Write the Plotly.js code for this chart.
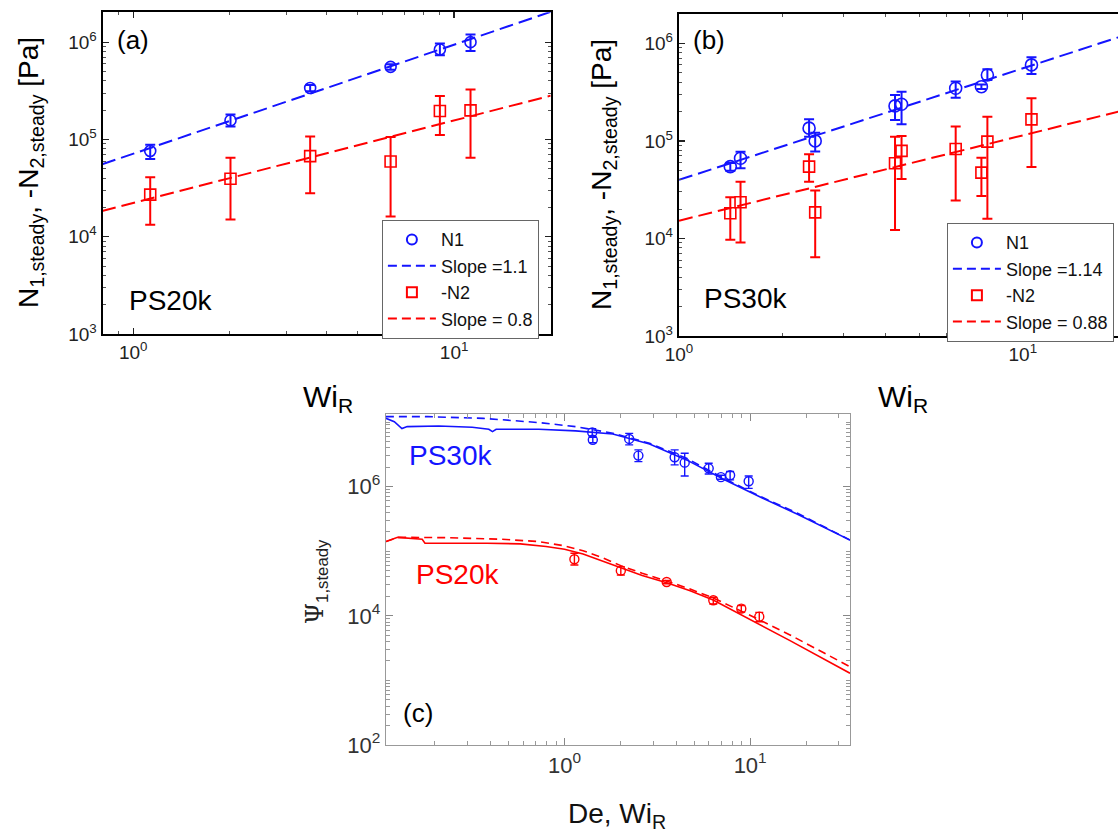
<!DOCTYPE html>
<html>
<head>
<meta charset="utf-8">
<script src="https://cdn.plot.ly/plotly-3.0.1.min.js"></script>
<style>
  html, body { margin: 0; padding: 0; background: #fff; overflow: hidden; }
  #chart { width: 1118px; height: 836px; }
</style>
</head>
<body>
<div id="chart"></div>
<script>
// ---------- Panel (a): PS20k ----------
const aWi = [1.13, 2.01, 3.56, 6.34, 9.03, 11.25];
const aN1 = [7.6e4, 1.57e5, 3.38e5, 5.57e5, 8.4e5, 1.0e6];
const aN1ErrPlus = [1.2e4, 2.4e4, 2.5e4, 3.5e4, 1.3e5, 2.0e5];
const aN1ErrMinus = [1.3e4, 2.1e4, 2.5e4, 3.5e4, 1.05e5, 1.9e5];
const aN2 = [2.71e4, 3.94e4, 6.73e4, 5.93e4, 1.96e5, 1.99e5];
const aN2ErrPlus = [1.37e4, 2.53e4, 3.97e4, 4.67e4, 8.3e4, 1.28e5];
const aN2ErrMinus = [1.38e4, 2.44e4, 3.93e4, 4.32e4, 8.5e4, 1.34e5];
const aFitWi = [0.80, 20.0];
const aFitN1 = [5.55e4, 2.05e6];
const aFitN2 = [1.84e4, 2.82e5];

// ---------- Panel (b): PS30k ----------
const bWi = [1.41, 1.51, 2.39, 2.49, 4.25, 4.44, 6.38, 7.58, 7.89, 10.6];
const bN1 = [5.44e4, 6.64e4, 1.35e5, 9.98e4, 2.28e5, 2.37e5, 3.46e5, 3.59e5, 4.73e5, 6.0e5];
const bN1ErrPlus = [5e3, 1.1e4, 3.1e4, 2.1e4, 6.7e4, 8.2e4, 5.9e4, 2e4, 6.9e4, 1.2e5];
const bN1ErrMinus = [5e3, 1.4e4, 2.5e4, 2.2e4, 6.4e4, 8.9e4, 6.9e4, 2e4, 5.2e4, 1.16e5];
const bN2 = [1.81e4, 2.35e4, 5.44e4, 1.85e4, 5.9e4, 7.89e4, 8.26e4, 4.72e4, 9.82e4, 1.66e5];
const bN2ErrPlus = [8.3e3, 1.47e4, 1.86e4, 1.24e4, 5.1e4, 3.31e4, 5.74e4, 2.01e4, 7.88e4, 1.07e5];
const bN2ErrMinus = [8.4e3, 1.44e4, 1.62e4, 1.21e4, 4.68e4, 3.82e4, 5.81e4, 2.0e4, 8.23e4, 1.12e5];
const bFitWi = [1.0, 18.95];
const bFitN1 = [3.98e4, 1.15e6];
const bFitN2 = [1.52e4, 1.99e5];

// ---------- Panel (c): Psi1 ----------
const c30Wi = [1.41, 1.42, 2.23, 2.50, 3.92, 4.44, 5.98, 6.96, 7.8, 9.82];
const c30Psi = [6.9e6, 5.3e6, 5.47e6, 3.02e6, 2.85e6, 2.35e6, 1.92e6, 1.40e6, 1.5e6, 1.21e6];
const c30ErrPlus = [1.0e6, 0.5e6, 1.2e6, 0.68e6, 0.85e6, 0.93e6, 0.38e6, 0.1e6, 0.21e6, 0.25e6];
const c30ErrMinus = [0.8e6, 0.5e6, 1.05e6, 0.58e6, 0.68e6, 0.89e6, 0.35e6, 0.1e6, 0.23e6, 0.27e6];
const c20Wi = [1.13, 2.01, 3.55, 6.33, 8.96, 11.2];
const c20Psi = [7.5e4, 5.0e4, 3.34e4, 1.74e4, 1.29e4, 9.7e3];
const c20ErrPlus = [1.8e4, 7.7e3, 2.0e3, 1.9e3, 1.5e3, 1.6e3];
const c20ErrMinus = [1.4e4, 7.1e3, 2.0e3, 2.2e3, 1.5e3, 1.6e3];

const c30DashDe = [0.109, 0.183, 0.365, 0.726, 1.147, 1.82, 2.87, 4.54, 7.19, 11.4, 18.0, 34.5];
const c30DashPsi = [1.21e7, 1.21e7, 1.14e7, 9.8e6, 8.49e6, 6.7e6, 4.69e6, 2.75e6, 1.35e6, 7.0e5, 3.87e5, 1.49e5];
const c30SolidDe = [0.109, 0.121, 0.133, 0.142, 0.210, 0.318, 0.391, 0.409, 0.428, 0.726, 1.147, 1.82, 2.87, 4.54, 7.19, 11.4, 18.0, 28.4, 34.5];
const c30SolidPsi = [1.14e7, 1.01e7, 7.9e6, 8.49e6, 8.69e6, 8.3e6, 7.73e6, 7.11e6, 7.73e6, 7.73e6, 7.28e6, 6.54e6, 4.58e6, 2.59e6, 1.3e6, 6.84e5, 3.73e5, 1.96e5, 1.49e5];
const c20DashDe = [0.109, 0.127, 0.231, 0.458, 0.726, 1.0, 1.258, 1.58, 2.01, 2.62, 3.55, 4.75, 6.32, 9.91, 16.4, 34.5];
const c20DashPsi = [1.41e5, 1.64e5, 1.62e5, 1.53e5, 1.41e5, 1.21e5, 1.02e5, 8.05e4, 5.98e4, 4.55e4, 3.46e4, 2.60e4, 1.89e4, 1.03e4, 5.05e3, 1.63e3];
const c20SolidDe = [0.109, 0.126, 0.171, 0.177, 0.382, 0.577, 0.795, 1.0, 1.258, 1.58, 2.01, 2.62, 3.55, 4.75, 6.32, 9.91, 16.4, 34.5];
const c20SolidPsi = [1.41e5, 1.64e5, 1.53e5, 1.33e5, 1.33e5, 1.30e5, 1.18e5, 1.07e5, 9.07e4, 7.15e4, 5.44e4, 4.19e4, 3.26e4, 2.45e4, 1.76e4, 8.93e3, 4.13e3, 1.29e3];

// ---------- Tick labels ----------
const abXTickVals = [1, 10];
const abXTickText = ['10<sup>0</sup>', '10<sup>1</sup>'];
const abYTickVals = [1e3, 1e4, 1e5, 1e6];
const abYTickText = ['10<sup>3</sup>', '10<sup>4</sup>', '10<sup>5</sup>', '10<sup>6</sup>'];
const cXTickVals = [1, 10];
const cXTickText = ['10<sup>0</sup>', '10<sup>1</sup>'];
const cYTickVals = [1e2, 1e4, 1e6];
const cYTickText = ['10<sup>2</sup>', '10<sup>4</sup>', '10<sup>6</sup>'];

// ---------- Styles ----------
const BLUE = 'rgb(20,20,255)';
const RED = 'rgb(255,0,0)';
const FONT = 'Liberation Sans, Arial, sans-serif';

function errs(plus, minus, color, th, w) {
  return {type: 'data', symmetric: false, array: plus, arrayminus: minus, color: color, thickness: th, width: w};
}

const traces = [];
// (a)
traces.push({x: aFitWi, y: aFitN1, xaxis: 'x', yaxis: 'y', mode: 'lines', line: {color: BLUE, width: 2, dash: '14px,6px'}, showlegend: false});
traces.push({x: aFitWi, y: aFitN2, xaxis: 'x', yaxis: 'y', mode: 'lines', line: {color: RED, width: 2, dash: '14px,6px'}, showlegend: false});
traces.push({x: aWi, y: aN1, xaxis: 'x', yaxis: 'y', mode: 'markers', marker: {symbol: 'circle-open', size: 11, color: BLUE, line: {width: 1.6}}, error_y: errs(aN1ErrPlus, aN1ErrMinus, BLUE, 2, 5), showlegend: false});
traces.push({x: aWi, y: aN2, xaxis: 'x', yaxis: 'y', mode: 'markers', marker: {symbol: 'square-open', size: 11, color: RED, line: {width: 1.6}}, error_y: errs(aN2ErrPlus, aN2ErrMinus, RED, 2, 5), showlegend: false});
// (a) legend entries
traces.push({x: [null], y: [null], xaxis: 'x', yaxis: 'y', name: 'N1', mode: 'markers', marker: {symbol: 'circle-open', size: 10, color: BLUE, line: {width: 2}}, legend: 'legend'});
traces.push({x: [null], y: [null], xaxis: 'x', yaxis: 'y', name: 'Slope =1.1', mode: 'lines', line: {color: BLUE, width: 2, dash: '9px,5px'}, legend: 'legend'});
traces.push({x: [null], y: [null], xaxis: 'x', yaxis: 'y', name: '-N2', mode: 'markers', marker: {symbol: 'square-open', size: 10, color: RED, line: {width: 2}}, legend: 'legend'});
traces.push({x: [null], y: [null], xaxis: 'x', yaxis: 'y', name: 'Slope = 0.8', mode: 'lines', line: {color: RED, width: 2, dash: '9px,5px'}, legend: 'legend'});

// (b)
traces.push({x: bFitWi, y: bFitN1, xaxis: 'x2', yaxis: 'y2', mode: 'lines', line: {color: BLUE, width: 2, dash: '14px,6px'}, showlegend: false});
traces.push({x: bFitWi, y: bFitN2, xaxis: 'x2', yaxis: 'y2', mode: 'lines', line: {color: RED, width: 2, dash: '14px,6px'}, showlegend: false});
traces.push({x: bWi, y: bN1, xaxis: 'x2', yaxis: 'y2', mode: 'markers', marker: {symbol: 'circle-open', size: 12, color: BLUE, line: {width: 1.6}}, error_y: errs(bN1ErrPlus, bN1ErrMinus, BLUE, 2, 5), showlegend: false});
traces.push({x: bWi, y: bN2, xaxis: 'x2', yaxis: 'y2', mode: 'markers', marker: {symbol: 'square-open', size: 11, color: RED, line: {width: 1.6}}, error_y: errs(bN2ErrPlus, bN2ErrMinus, RED, 2, 5), showlegend: false});
traces.push({x: [null], y: [null], xaxis: 'x2', yaxis: 'y2', name: 'N1', mode: 'markers', marker: {symbol: 'circle-open', size: 10, color: BLUE, line: {width: 2}}, legend: 'legend2'});
traces.push({x: [null], y: [null], xaxis: 'x2', yaxis: 'y2', name: 'Slope =1.14', mode: 'lines', line: {color: BLUE, width: 2, dash: '9px,5px'}, legend: 'legend2'});
traces.push({x: [null], y: [null], xaxis: 'x2', yaxis: 'y2', name: '-N2', mode: 'markers', marker: {symbol: 'square-open', size: 10, color: RED, line: {width: 2}}, legend: 'legend2'});
traces.push({x: [null], y: [null], xaxis: 'x2', yaxis: 'y2', name: 'Slope = 0.88', mode: 'lines', line: {color: RED, width: 2, dash: '9px,5px'}, legend: 'legend2'});

// (c)
traces.push({x: c30DashDe, y: c30DashPsi, xaxis: 'x3', yaxis: 'y3', mode: 'lines', line: {color: BLUE, width: 1.6, dash: '8px,5px'}, showlegend: false});
traces.push({x: c30SolidDe, y: c30SolidPsi, xaxis: 'x3', yaxis: 'y3', mode: 'lines', line: {color: BLUE, width: 1.6}, showlegend: false});
traces.push({x: c20DashDe, y: c20DashPsi, xaxis: 'x3', yaxis: 'y3', mode: 'lines', line: {color: RED, width: 1.6, dash: '8px,5px'}, showlegend: false});
traces.push({x: c20SolidDe, y: c20SolidPsi, xaxis: 'x3', yaxis: 'y3', mode: 'lines', line: {color: RED, width: 1.6}, showlegend: false});
traces.push({x: c30Wi, y: c30Psi, xaxis: 'x3', yaxis: 'y3', mode: 'markers', marker: {symbol: 'circle-open', size: 9, color: BLUE, line: {width: 1.4}}, error_y: errs(c30ErrPlus, c30ErrMinus, BLUE, 1.4, 4), showlegend: false});
traces.push({x: c20Wi, y: c20Psi, xaxis: 'x3', yaxis: 'y3', mode: 'markers', marker: {symbol: 'circle-open', size: 9, color: RED, line: {width: 1.4}}, error_y: errs(c20ErrPlus, c20ErrMinus, RED, 1.4, 4), showlegend: false});

function abAxis(domain, range, tv, tt, anchor, mirror) {
  return {
    type: 'log', domain: domain, range: range, anchor: anchor,
    tickmode: 'array', tickvals: tv, ticktext: tt,
    showline: true, linecolor: '#000', linewidth: 2.2, mirror: mirror,
    ticks: 'inside', ticklen: 6, tickwidth: 1.3, tickcolor: '#222',
    minor: {dtick: 'D1', ticks: 'inside', ticklen: 3, tickwidth: 1, tickcolor: '#555', showgrid: false},
    showgrid: false, zeroline: false,
    tickfont: {family: FONT, size: 19, color: '#222'}
  };
}
function cAxis(domain, range, tv, tt, anchor) {
  return {
    type: 'log', domain: domain, range: range, anchor: anchor,
    tickmode: 'array', tickvals: tv, ticktext: tt,
    showline: true, linecolor: '#999', linewidth: 1.3, mirror: 'allticks',
    ticks: 'inside', ticklen: 7, tickwidth: 1, tickcolor: '#888',
    minor: {dtick: 'D1', ticks: 'inside', ticklen: 4, tickwidth: 1, tickcolor: '#999', showgrid: false},
    showgrid: false, zeroline: false,
    tickfont: {family: FONT, size: 22, color: '#333'}
  };
}

const W = 1118, H = 836;
const px = v => v / W;
const py = v => 1 - v / H;

function ann(x, y, text, size, color, angle) {
  return {xref: 'paper', yref: 'paper', x: px(x), y: py(y), text: text, showarrow: false,
          xanchor: 'center', yanchor: 'middle', textangle: angle || 0,
          font: {family: FONT, size: size, color: color || '#000'}};
}

const legendStyle = {xanchor: 'left', yanchor: 'top', bgcolor: '#fff',
  bordercolor: '#666', borderwidth: 1.2, font: {family: FONT, size: 18, color: '#111'},
  tracegroupgap: 0, itemwidth: 48};

const layout = {
  width: W, height: H,
  margin: {l: 0, r: 0, t: 0, b: 0},
  paper_bgcolor: '#fff', plot_bgcolor: 'rgba(0,0,0,0)',
  font: {family: FONT},
  xaxis: abAxis([px(102.7), px(550.7)], [-0.095, 1.301], abXTickVals, abXTickText, 'y', 'allticks'),
  yaxis: abAxis([py(334), py(12.3)], [3, 6.307], abYTickVals, abYTickText, 'x', 'allticks'),
  xaxis2: abAxis([px(679), 1], [0, 1.277], abXTickVals, abXTickText, 'y2', 'allticks'),
  yaxis2: abAxis([py(336), py(14)], [3, 6.30], abYTickVals, abYTickText, 'x2', false),
  xaxis3: cAxis([px(386), px(850)], [-0.962, 1.538], cXTickVals, cXTickText, 'y3'),
  yaxis3: cAxis([py(745), py(414)], [2, 7.124], cYTickVals, cYTickText, 'x3'),
  legend: Object.assign({x: px(381.7), y: py(220)}, legendStyle),
  legend2: Object.assign({x: px(946.7), y: py(223)}, legendStyle),
  annotations: [
    ann(30, 173, 'N<sub>1,steady</sub>, -N<sub>2,steady</sub> [Pa]', 28, '#000', -90),
    ann(604, 175, 'N<sub>1,steady</sub>, -N<sub>2,steady</sub> [Pa]', 28, '#000', -90),
    ann(328, 398, 'Wi<sub>R</sub>', 30, '#000'),
    ann(903, 398, 'Wi<sub>R</sub>', 30, '#000'),
    ann(617, 815, 'De, Wi<sub>R</sub>', 28, '#111'),
    ann(316, 582, '<span style="font-family:DejaVu Serif">Ψ</span><sub>1,steady</sub>', 24, '#222', -90),
    ann(133, 40, '(a)', 26, '#000'),
    ann(709, 40, '(b)', 26, '#000'),
    ann(418, 713, '(c)', 26, '#000'),
    ann(170, 300, 'PS20k', 28, '#000'),
    ann(745, 299, 'PS30k', 28, '#000'),
    ann(450, 456, 'PS30k', 28, BLUE),
    ann(457, 574, 'PS20k', 28, RED)
  ]
};

Plotly.newPlot('chart', traces, layout, {displayModeBar: false, staticPlot: true});
</script>
</body>
</html>
